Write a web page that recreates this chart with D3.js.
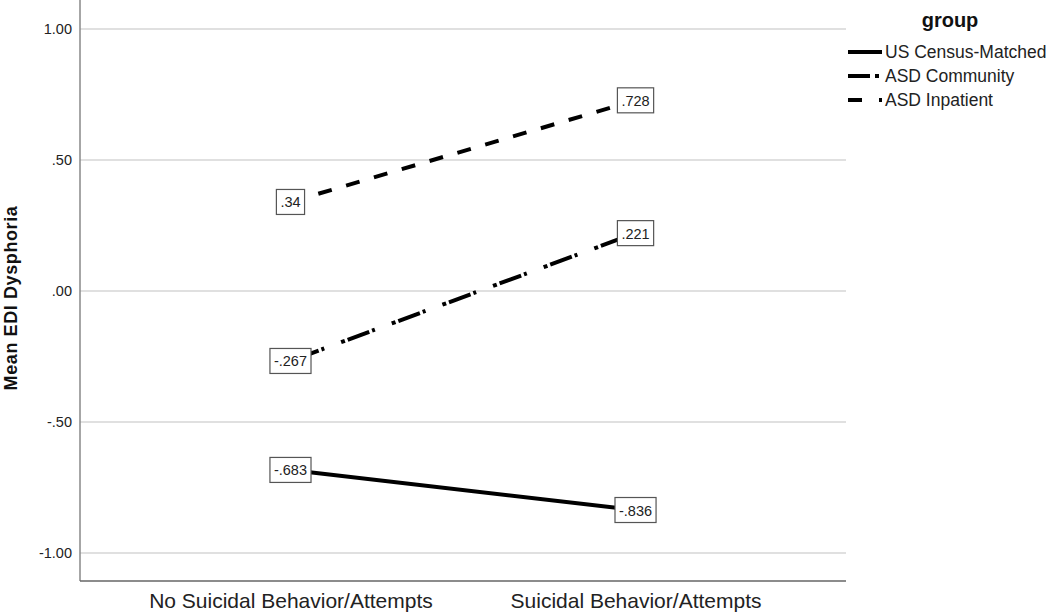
<!DOCTYPE html>
<html><head><meta charset="utf-8">
<script src="https://cdn.jsdelivr.net/npm/d3@7"></script>
<style>body{margin:0;background:#fff;} text{font-family:Arial,"Liberation Sans",sans-serif;}</style>
</head><body>
<svg id="c" width="1050" height="615"></svg>
<script>
const categories = ["No Suicidal Behavior/Attempts", "Suicidal Behavior/Attempts"];
const groups = ["US Census-Matched", "ASD Community", "ASD Inpatient"];
const usCensus = [-0.683, -0.836];
const asdCommunity = [-0.267, 0.221];
const asdInpatient = [0.34, 0.728];
const pointLabels = [["-.683", "-.836"], ["-.267", ".221"], [".34", ".728"]];
const yTicks = [1, 0.5, 0, -0.5, -1];
const yTickLabels = ["1.00", ".50", ".00", "-.50", "-1.00"];

const series = [usCensus, asdCommunity, asdInpatient];
const dashes = [null, "4,3,23,3,3,18", "14,15"];
const legendDashes = [null, "22,5,4,20", "14,17"];

const svg = d3.select("#c");
const L = 80, R = 846, T = 0, B = 581;
const x = d3.scalePoint().domain(categories).range([L, R]).padding(0.61);
const y = d3.scaleLinear().domain([-1.107, 1.111]).range([B, T]);

// gridlines
svg.append("g").selectAll("line").data(yTicks).join("line")
  .attr("x1", L).attr("x2", R).attr("y1", d => y(d)).attr("y2", d => y(d))
  .attr("stroke", "#d6d6d6").attr("stroke-width", 1.5);

// y axis
const yAxis = d3.axisLeft(y).tickValues(yTicks).tickSize(0).tickPadding(8)
  .tickFormat((d, i) => yTickLabels[i]);
const gy = svg.append("g").attr("transform", `translate(${L},0)`).call(yAxis);
gy.select(".domain").remove();
gy.selectAll("text").attr("font-size", "14.5px").attr("fill", "#222")
  .style("font-family", "Arial, 'Liberation Sans', sans-serif");

// x axis
const xAxis = d3.axisBottom(x).tickSize(0).tickPadding(12);
const gx = svg.append("g").attr("transform", `translate(0,${B})`).call(xAxis);
gx.select(".domain").remove();
gx.selectAll("text").attr("font-size", "21px").attr("fill", "#222")
  .style("font-family", "Arial, 'Liberation Sans', sans-serif");

// axis lines
svg.append("line").attr("x1", L).attr("x2", L).attr("y1", T).attr("y2", B)
  .attr("stroke", "#888").attr("stroke-width", 1.5);
svg.append("line").attr("x1", L).attr("x2", R).attr("y1", B).attr("y2", B)
  .attr("stroke", "#666").attr("stroke-width", 1.5);

// lines
const line = d3.line().x((d, i) => x(categories[i])).y(d => y(d));
series.forEach((s, k) => {
  const p = svg.append("path").datum(s).attr("d", line)
    .attr("fill", "none").attr("stroke", "#000").attr("stroke-width", 4);
  if (dashes[k]) p.attr("stroke-dasharray", dashes[k]);
});

// point labels
series.forEach((s, k) => {
  s.forEach((v, i) => {
    const cx = x(categories[i]), cy = y(v);
    const g = svg.append("g");
    const t = g.append("text").attr("x", cx).attr("y", cy + 5.5)
      .attr("text-anchor", "middle").attr("font-size", "14.5px").attr("fill", "#222")
      .text(pointLabels[k][i]);
    const w = t.node().getComputedTextLength() + 8;
    g.insert("rect", "text").attr("x", cx - w / 2).attr("y", cy - 12.5)
      .attr("width", w).attr("height", 25)
      .attr("fill", "#fff").attr("stroke", "#555").attr("stroke-width", 1.2);
  });
});

// y label
svg.append("text").attr("transform", "translate(17,298) rotate(-90)")
  .attr("text-anchor", "middle").attr("font-size", "18px").attr("font-weight", "bold")
  .attr("letter-spacing", "0.6px")
  .attr("fill", "#111").text("Mean EDI Dysphoria");

// legend
svg.append("text").attr("x", 950).attr("y", 27).attr("text-anchor", "middle")
  .attr("font-size", "20px").attr("font-weight", "bold").attr("fill", "#111").text("group");
groups.forEach((gname, k) => {
  const yy = 52 + k * 24;
  const l = svg.append("line").attr("x1", 848).attr("x2", 882).attr("y1", yy).attr("y2", yy)
    .attr("stroke", "#000").attr("stroke-width", 4);
  if (legendDashes[k]) l.attr("stroke-dasharray", legendDashes[k]);
  svg.append("text").attr("x", 885).attr("y", yy + 6).attr("font-size", "17.5px")
    .attr("fill", "#222").text(gname);
});
</script>
</body></html>
